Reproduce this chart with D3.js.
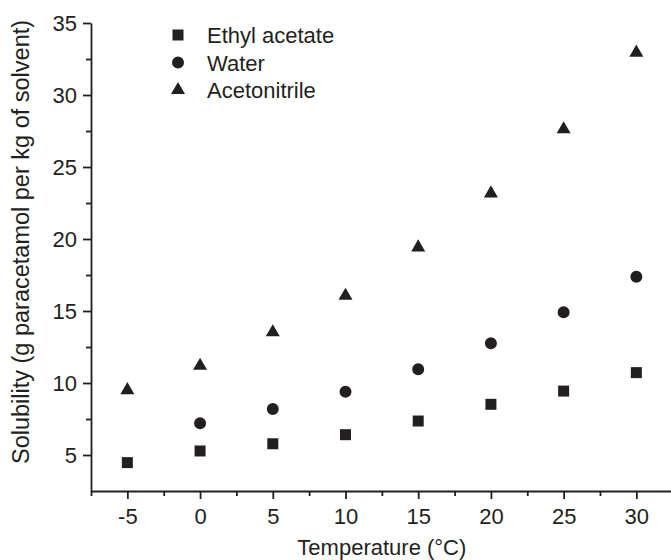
<!DOCTYPE html>
<html>
<head>
<meta charset="utf-8">
<script src="https://cdn.jsdelivr.net/npm/d3@7"></script>
<style>
  body { margin: 0; background: #fff; }
  svg text { font-family: "Liberation Sans", Arial, sans-serif; fill: #231f20; }
</style>
</head>
<body>
<svg id="chart" width="671" height="560"></svg>
<script>
// temperatures (°C)
var temps = [-5, 0, 5, 10, 15, 20, 25, 30];
// solubility, g paracetamol per kg of solvent
var ethylAcetate = [4.47, 5.28, 5.78, 6.41, 7.36, 8.52, 9.44, 10.72];
var waterTemps = [0, 5, 10, 15, 20, 25, 30];
var water = [7.2, 8.19, 9.4, 10.95, 12.76, 14.91, 17.38];
var acetonitrile = [9.5, 11.2, 13.52, 16.06, 19.42, 23.17, 27.62, 32.94];

var seriesNames = ['Ethyl acetate', 'Water', 'Acetonitrile'];
var xTicks = [-5, 0, 5, 10, 15, 20, 25, 30];
var yTicks = [5, 10, 15, 20, 25, 30, 35];

var ink = '#231f20';
var svg = d3.select('#chart');

var x = d3.scaleLinear().domain([-7.5, 32.5]).range([91, 672.7]),
    y = d3.scaleLinear().domain([2.5, 35]).range([491, 23]);

// minor ticks halfway between the labelled ones
var xMinor = d3.range(-7.5, 33, 5),
    yMinor = d3.range(7.5, 35, 5);

// plain hyphen for negatives, like the original
var fmt = function(d){ return String(d) };

function styleAxis(g) {
  g.select('.domain').attr('stroke', ink).attr('stroke-width', 1.8);
  g.selectAll('.tick line').attr('stroke', ink).attr('stroke-width', 1.8);
  g.selectAll('.tick text').attr('font-size', 22).attr('fill', ink);
}

svg.append('g')
  .attr('transform', 'translate(0,491)')
  .call(d3.axisBottom(x).tickValues(xMinor).tickSize(5).tickFormat(''))
  .call(function(g){ g.select('.domain').remove() })
  .call(styleAxis);

svg.append('g')
  .attr('transform', 'translate(91,0)')
  .call(d3.axisLeft(y).tickValues(yMinor).tickSize(5).tickFormat(''))
  .call(function(g){ g.select('.domain').remove() })
  .call(styleAxis);

svg.append('g')
  .attr('transform', 'translate(0,491)')
  .call(d3.axisBottom(x).tickValues(xTicks).tickFormat(fmt).tickSize(8).tickSizeOuter(0).tickPadding(9))
  .call(styleAxis);

svg.append('g')
  .attr('transform', 'translate(91,0)')
  .call(d3.axisLeft(y).tickValues(yTicks).tickFormat(fmt).tickSize(8).tickSizeOuter(0).tickPadding(6))
  .call(styleAxis);

// axis titles
svg.append('text')
  .attr('x', (x.range()[0] + x.range()[1]) / 2)
  .attr('y', 555)
  .attr('text-anchor', 'middle')
  .attr('font-size', 22)
  .text('Temperature (°C)');

svg.append('text')
  .attr('transform', 'translate(29,242) rotate(-90)')
  .attr('text-anchor', 'middle')
  .attr('font-size', 23.5)
  .text('Solubility (g paracetamol per kg of solvent)');

// markers
var shapes = [
  d3.symbol().type(d3.symbolSquare).size(121),
  d3.symbol().type(d3.symbolCircle).size(113),
  d3.symbol().type(d3.symbolTriangle).size(85)
];

function plot(xs, ys, shape) {
  svg.append('g').selectAll('path')
    .data(xs)
    .enter().append('path')
    .attr('d', shape)
    .attr('fill', ink)
    .attr('transform', function(d, i){ return 'translate(' + x(d) + ',' + y(ys[i]) + ')' });
}

plot(temps, ethylAcetate, shapes[0]);
plot(waterTemps, water, shapes[1]);
plot(temps, acetonitrile, shapes[2]);

// legend
var legend = svg.append('g').attr('transform', 'translate(178,35)');
seriesNames.forEach(function(name, i) {
  var row = legend.append('g').attr('transform', 'translate(0,' + (i * 27.5) + ')');
  row.append('path').attr('d', shapes[i]).attr('fill', ink);
  row.append('text').attr('x', 29).attr('y', 8).attr('font-size', 22).text(name);
});
</script>
</body>
</html>
